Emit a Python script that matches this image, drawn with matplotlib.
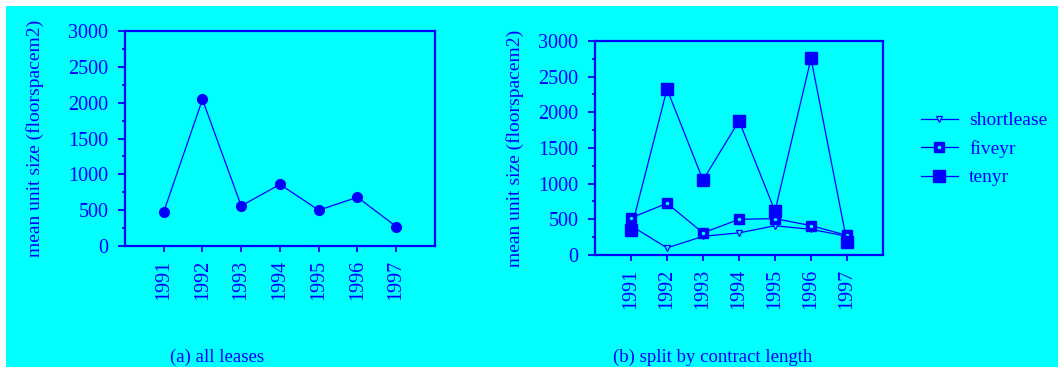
import matplotlib
matplotlib.use('Agg')
import matplotlib.pyplot as plt
from matplotlib.legend_handler import HandlerTuple
from matplotlib.patches import Rectangle
from matplotlib.ticker import MultipleLocator

BLUE = '#0000ff'
CYAN = '#00ffff'

years = [1991, 1992, 1993, 1994, 1995, 1996, 1997]

# (a) all leases
all_leases = [475, 2045, 560, 860, 500, 680, 272]

# (b) split by contract length
shortlease = [410, 100, 262, 310, 410, 360, 262]
fiveyr = [520, 725, 310, 500, 510, 412, 275]
tenyr = [355, 2325, 1050, 1880, 615, 2755, 180]

ylabel = 'mean unit size (floorspacem2)'
captions = ['(a) all leases', '(b) split by contract length']

plt.rcParams['font.family'] = ['Liberation Serif', 'DejaVu Serif']
plt.rcParams['font.size'] = 14.5

fig = plt.figure(figsize=(10.58, 3.67), dpi=100, facecolor='white')
fig.patches.append(Rectangle((6 / 1058, 0), 1 - 6 / 1058, 1 - 6 / 367,
                             transform=fig.transFigure, facecolor=CYAN,
                             edgecolor='none', zorder=-10))


def style_axes(ax):
    ax.set_facecolor(CYAN)
    for sp in ax.spines.values():
        sp.set_color(BLUE)
        sp.set_linewidth(1.6)
    ax.set_xlim(1990, 1998)
    ax.set_ylim(0, 3000)
    ax.set_xticks(years)
    ax.set_xticklabels([str(y) for y in years], rotation=90)
    ax.yaxis.set_major_locator(MultipleLocator(500))
    ax.yaxis.set_minor_locator(MultipleLocator(250))
    ax.tick_params(axis='y', which='major', direction='out', length=5,
                   width=1.3, color=BLUE, labelcolor=BLUE, pad=7)
    ax.tick_params(axis='y', which='minor', direction='out', length=2.5,
                   width=1.3, color=BLUE)
    ax.tick_params(axis='x', direction='out', length=4, width=1.3,
                   color=BLUE, labelcolor=BLUE, pad=6)
    ax.set_ylabel(ylabel, color=BLUE, fontsize=14)


# left panel
ax1 = fig.add_axes([0.1181, 0.3297, 0.2930, 0.5858])
style_axes(ax1)
ax1.yaxis.set_label_coords(-0.26, 0.5)
ax1.plot(years, all_leases, color=BLUE, lw=0.9, marker='o', ms=7,
         mfc=BLUE, mec=BLUE, clip_on=False)

# right panel
ax2 = fig.add_axes([0.5624, 0.3052, 0.2722, 0.5831])
style_axes(ax2)
ax2.yaxis.set_label_coords(-0.246, 0.5)
h_short, = ax2.plot(years, shortlease, color=BLUE, lw=0.9, marker='v',
                    ms=5, mfc=CYAN, mec=BLUE, mew=0.9)
h_five, = ax2.plot(years, fiveyr, color=BLUE, lw=0.9, marker='s',
                   ms=7, mfc=BLUE, mec=BLUE)
h_five_dot, = ax2.plot(years, fiveyr, ls='none', marker='o', ms=1.5,
                       mfc=CYAN, mec=CYAN)
h_ten, = ax2.plot(years, tenyr, color=BLUE, lw=0.9, marker='s',
                  ms=9, mfc=BLUE, mec=BLUE, clip_on=False)

leg = ax2.legend([h_short, (h_five, h_five_dot), h_ten],
                 ['shortlease', 'fiveyr', 'tenyr'],
                 handler_map={tuple: HandlerTuple(ndivide=1, pad=0)},
                 loc='center left', bbox_to_anchor=(1.07, 0.495),
                 frameon=False, fontsize=14, handlelength=1.9,
                 handletextpad=0.6, labelspacing=0.55)
for t in leg.get_texts():
    t.set_color(BLUE)

fig.text(217 / 1058, 1 - 357 / 367, captions[0], color=BLUE, fontsize=13.5,
         ha='center', va='center')
fig.text(713 / 1058, 1 - 357 / 367, captions[1], color=BLUE, fontsize=13.5,
         ha='center', va='center')

fig.savefig('out.png', dpi=100, facecolor=fig.get_facecolor())
